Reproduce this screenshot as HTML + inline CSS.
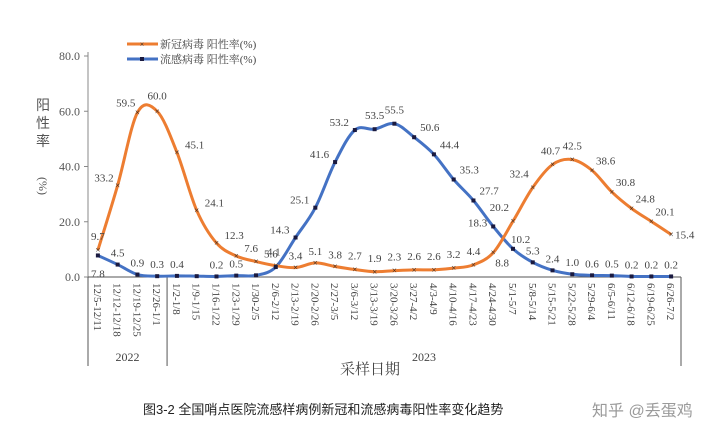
<!DOCTYPE html>
<html><head><meta charset="utf-8">
<style>
body{margin:0;background:#fff;}
svg{display:block;font-family:"Liberation Serif","Noto Serif CJK SC",serif;}
</style></head>
<body>
<svg id="chart" width="720" height="441" viewBox="0 0 720 441" xmlns="http://www.w3.org/2000/svg">
<g id="legend">
 <g>
  <line x1="127" y1="44" x2="158" y2="44" stroke="#ED7D31" stroke-width="3"/>
  <text x="142" y="47" font-size="8" text-anchor="middle" fill="#222">×</text>
  <text x="160" y="48" font-size="11" fill="#444" font-family="Liberation Serif,Noto Serif CJK SC,serif">新冠病毒 阳性率(%)</text>
 </g>
 <g>
  <line x1="127" y1="59" x2="158" y2="59" stroke="#4472C4" stroke-width="3"/>
  <rect x="140" y="57" width="4" height="4" fill="#1a1a40"/>
  <text x="160" y="63" font-size="11" fill="#444" font-family="Liberation Serif,Noto Serif CJK SC,serif">流感病毒 阳性率(%)</text>
 </g>
</g>
<g id="yaxis"></g>
<g id="xaxis"></g>
<g id="series"></g>
<text x="43" y="110" font-size="14" fill="#555" font-family="Liberation Sans,Noto Sans CJK SC,sans-serif" text-anchor="middle"><tspan x="43" dy="0">阳</tspan><tspan x="43" dy="18">性</tspan><tspan x="43" dy="18">率</tspan></text>
<text x="43" y="190" font-size="12" fill="#555" text-anchor="middle" transform="rotate(90 43 186)">(%)</text>
<text x="370" y="374" font-size="15" fill="#444" text-anchor="middle" font-family="Liberation Serif,Noto Serif CJK SC,serif">采样日期</text>
<text x="143" y="414" font-size="13" fill="#222" font-family="Liberation Sans,Noto Sans CJK SC,sans-serif">图3-2 全国哨点医院流感样病例新冠和流感病毒阳性率变化趋势</text>
<text x="592" y="416" font-size="16" fill="#9a9a9a" font-family="Liberation Sans,Noto Sans CJK SC,sans-serif">知乎 @丢蛋鸡</text>
</svg>
<script>
const categories=["12/5-12/11","12/12-12/18","12/19-12/25","12/26-1/1","1/2-1/8","1/9-1/15","1/16-1/22","1/23-1/29","1/30-2/5","2/6-2/12","2/13-2/19","2/20-2/26","2/27-3/5","3/6-3/12","3/13-3/19","3/20-3/26","3/27-4/2","4/3-4/9","4/10-4/16","4/17-4/23","4/24-4/30","5/1-5/7","5/8-5/14","5/15-5/21","5/22-5/28","5/29-6/4","6/5-6/11","6/12-6/18","6/19-6/25","6/26-7/2"];
const covidValues=[9.7,33.2,59.5,60.0,45.1,24.1,12.3,7.6,5.6,4.1,3.4,5.1,3.8,2.7,1.9,2.3,2.6,2.6,3.2,4.4,8.8,20.2,32.4,40.7,42.5,38.6,30.8,24.8,20.1,15.4];
const fluValues=[7.8,4.5,0.9,0.3,0.4,0.3,0.2,0.5,0.6,3.6,14.3,25.1,41.6,53.2,53.5,55.5,50.6,44.4,35.3,27.7,18.3,10.2,5.3,2.4,1.0,0.6,0.5,0.2,0.2,0.2];
const fluShowLabel=[1,1,1,1,1,0,1,1,0,0,1,1,1,1,1,1,1,1,1,1,1,1,1,1,1,1,1,1,1,1];
const yTicks=[0,20,40,60,80];
const years=["2022","2023"];
const yearCounts=[4,26];

const NS="http://www.w3.org/2000/svg";
const L=88,R=681,T=56,B=277,YMAX=80;
const band=(R-L)/categories.length;
const xs=i=>L+band*(i+0.5);
const ys=v=>B-(v/YMAX)*(B-T);
function mk(tag,attrs,parent){const e=document.createElementNS(NS,tag);for(const k in attrs)e.setAttribute(k,attrs[k]);parent.appendChild(e);return e;}
const yax=document.getElementById('yaxis'),xax=document.getElementById('xaxis'),ser=document.getElementById('series');
let l=mk('line',{x1:L,y1:T-4,x2:L,y2:B,stroke:'#888','stroke-width':1},yax);


yTicks.forEach(t=>{
 const y=ys(t);
 const tk=mk('line',{x1:L-4,y1:y,x2:L,y2:y,stroke:'#888'},yax);
 
 
 const tx=mk('text',{x:L-8,y:y+4,'font-size':12,fill:'#555','text-anchor':'end'},yax);
 tx.textContent=t.toFixed(1);
 
 
});
const xl=mk('line',{x1:L,y1:B,x2:R,y2:B,stroke:'#555','stroke-width':1},xax);


categories.forEach((c,i)=>{
 const x=xs(i);
 const tx=mk('text',{x:0,y:0,'font-size':11,fill:'#444',transform:`translate(${x-4},${B+6}) rotate(90)`},xax);
 tx.textContent=c;
 
 
});
let acc=0;
const bounds=[L];
yearCounts.forEach(n=>{acc+=n;bounds.push(L+band*acc);});
bounds.forEach(bx=>{
 const v=mk('line',{x1:bx,y1:B,x2:bx,y2:366,stroke:'#555'},xax);
 
 
});
years.forEach((yr,k)=>{
 const tx=mk('text',{x:(bounds[k]+bounds[k+1])/2,y:361,'font-size':12,fill:'#444','text-anchor':'middle'},xax);
 tx.textContent=yr;
 
 
});
function smooth(vals){
 const p=vals.map((v,i)=>[xs(i),ys(v)]);
 let d=`M${p[0][0]},${p[0][1]}`;
 for(let i=0;i<p.length-1;i++){
  const p0=p[i-1]||p[i],p1=p[i],p2=p[i+1],p3=p[i+2]||p[i+1];
  const t=1/6;
  d+=` C${p1[0]+(p2[0]-p0[0])*t},${p1[1]+(p2[1]-p0[1])*t} ${p2[0]-(p3[0]-p1[0])*t},${p2[1]-(p3[1]-p1[1])*t} ${p2[0]},${p2[1]}`;
 }
 return d;
}
const fp=mk('path',{d:smooth(fluValues),fill:'none',stroke:'#4472C4','stroke-width':3},ser);


const cp=mk('path',{d:smooth(covidValues),fill:'none',stroke:'#ED7D31','stroke-width':3},ser);


fluValues.forEach((v,i)=>{
 const m=mk('rect',{x:xs(i)-2,y:ys(v)-2,width:4,height:4,fill:'#1a1a40'},ser);
 
 
 if(fluShowLabel[i]){
  let dx=0,dy=-8,anchor='middle';
  if(i===0){dy=22;}
  if(i>=10&&i<=13){dx=-6;anchor='end';dy=-4;}
  if(i===14||i===15){dy=-10;}
  if(i>=16&&i<=19){dx=6;anchor='start';dy=-6;}
  if(i===20){dx=-6;anchor='end';dy=0;}
  if(i===21){dx=-2;anchor='start';dy=-6;}
  const t=mk('text',{x:xs(i)+dx,y:ys(v)+dy,'font-size':11,fill:'#444','text-anchor':anchor},ser);
  t.textContent=v.toFixed(1);
  
  
 }
});
covidValues.forEach((v,i)=>{
 const m=mk('text',{x:xs(i),y:ys(v)+3,'font-size':9,fill:'#222','text-anchor':'middle'},ser);
 m.textContent='×';
 
 
 let dx=0,dy=-8,anchor='middle';
 if(i>=4&&i<=8){dx=8;anchor='start';dy=-4;}
 if(i===0){dy=-10;}
 if(i===1){dx=-4;anchor='end';dy=-4;}
 if(i===2){dx=-2;anchor='end';dy=-6;}
 if(i===3){dy=-12;}
 if(i===9){dx=-2;dy=-10;}
 if(i===20){dx=2;dy=14;anchor='start';}
 if(i===21||i===22){dx=-4;anchor='end';dy=-10;}
 if(i===23){dx=-2;dy=-10;}
 if(i===24){dy=-10;}
 if(i>=25&&i<=28){dx=4;anchor='start';dy=-6;}
 if(i===29){dx=4;anchor='start';dy=4;}
 if(i>=13&&i<=19){dy=-10;}
 const t=mk('text',{x:xs(i)+dx,y:ys(v)+dy,'font-size':11,fill:'#444','text-anchor':anchor},ser);
 t.textContent=v.toFixed(1);
 
 
});
</script>
</body></html>
